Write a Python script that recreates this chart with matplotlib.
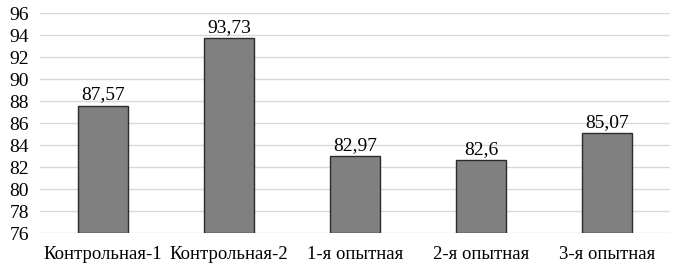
import matplotlib.pyplot as plt

groups = ["Контрольная-1", "Контрольная-2", "1-я опытная", "2-я опытная", "3-я опытная"]
values = [87.57, 93.73, 82.97, 82.6, 85.07]
value_labels = ["87,57", "93,73", "82,97", "82,6", "85,07"]
y_ticks = list(range(76, 97, 2))

plt.rcParams['font.family'] = ['Liberation Serif', 'DejaVu Serif']

fig = plt.figure(figsize=(6.78, 2.73), dpi=100)
ax = fig.add_axes([0.059, 0.1465, 0.929, 0.8055])

x = list(range(len(groups)))
bars = ax.bar(x, [v - 76 for v in values], bottom=76, width=0.4,
              color="#808080", edgecolor="#2b2b2b", linewidth=1.0, zorder=3)

for xi, v, lab in zip(x, values, value_labels):
    ax.text(xi, v + 0.2, lab, ha="center", va="bottom", fontsize=14, color="black", zorder=4)

ax.set_xlim(-0.5, len(groups) - 0.5)
ax.set_ylim(76, 96)
ax.set_yticks(y_ticks)
ax.set_yticklabels([str(t) for t in y_ticks], fontsize=14)
ax.set_xticks(x)
ax.set_xticklabels(groups, fontsize=13.5)
ax.tick_params(length=0, pad=8)
ax.tick_params(axis="x", pad=9)
ax.yaxis.grid(True, color="#d9d9d9", linewidth=1.0, zorder=0)
for s in ax.spines.values():
    s.set_visible(False)

fig.savefig("out.png", dpi=100)
